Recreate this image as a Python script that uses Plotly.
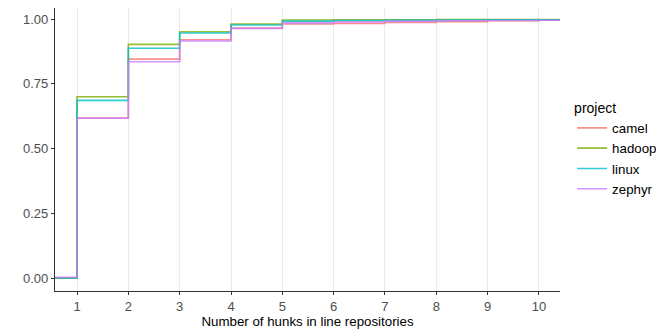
import plotly.graph_objects as go

# ecdf of number of hunks per project
hunks = [1, 2, 3, 4, 5, 6, 7, 8, 9, 10]
projects = ['camel', 'hadoop', 'linux', 'zephyr']
start_level = {'camel': 0.0, 'hadoop': 0.0, 'linux': 0.0, 'zephyr': 0.003}
camel = [0.618, 0.845, 0.920, 0.965, 0.981, 0.983, 0.987, 0.990, 0.993, 0.995]
hadoop = [0.700, 0.902, 0.951, 0.981, 0.996, 0.997, 0.997, 0.998, 0.998, 0.998]
linux = [0.686, 0.887, 0.946, 0.977, 0.992, 0.994, 0.995, 0.996, 0.997, 0.997]
zephyr = [0.617, 0.835, 0.915, 0.964, 0.985, 0.989, 0.991, 0.993, 0.994, 0.995]
series = {'camel': camel, 'hadoop': hadoop, 'linux': linux, 'zephyr': zephyr}
colors = {'camel': '#F8766D', 'hadoop': '#7CAE00', 'linux': '#00BFC4', 'zephyr': '#C77CFF'}

x_range = [0.571, 10.41]
y_range = [-0.050, 1.0425]

fig = go.Figure()
for p in projects:
    # pad the steps out to the panel edges, like stat_ecdf(pad=TRUE)
    xs = [x_range[0] - 1] + hunks + [x_range[1] + 1]
    ys = [start_level[p]] + series[p] + [series[p][-1]]
    fig.add_trace(go.Scatter(x=xs, y=ys, mode='lines', name=p,
                             line=dict(color=colors[p], width=1.6, shape='hv'),
                             opacity=0.8))

# page body has an 8px margin, so the figure is 8px smaller than the window
fig.update_layout(
    width=656, height=324,
    margin=dict(l=47, r=104, t=0, b=41),
    plot_bgcolor='white', paper_bgcolor='white',
    font=dict(family='Liberation Sans, Arial, sans-serif', size=13, color='black'),
    legend=dict(title=dict(text='project', font=dict(size=14)),
                x=1.024, xanchor='left', y=0.5, yanchor='middle',
                font=dict(size=13.3), itemwidth=30, tracegroupgap=0),
    shapes=[dict(type='rect', xref='paper', yref='paper',
                 x0=1.032, x1=1.097, y0=0.329, y1=0.611,
                 fillcolor='#F2F2F2', line=dict(width=0), layer='below')],
)
fig.update_xaxes(range=x_range, tickvals=hunks, showgrid=True, gridcolor='#EBEBEB',
                 gridwidth=1, zeroline=False, showline=True, linecolor='#333333',
                 linewidth=1.2, ticks='outside', ticklen=3, tickcolor='#333333',
                 tickfont=dict(size=13, color='#4D4D4D'), automargin=False,
                 title=dict(text='Number of hunks in line repositories',
                            font=dict(size=13.3), standoff=2))
fig.update_yaxes(range=y_range, tickvals=[0, 0.25, 0.5, 0.75, 1.0],
                 ticktext=['0.00', '0.25', '0.50', '0.75', '1.00'],
                 showgrid=False, zeroline=False, showline=True, linecolor='#333333',
                 linewidth=1.2, ticks='outside', ticklen=3, tickcolor='#333333',
                 tickfont=dict(size=13, color='#4D4D4D'), automargin=False)

fig.write_html("out.html")
